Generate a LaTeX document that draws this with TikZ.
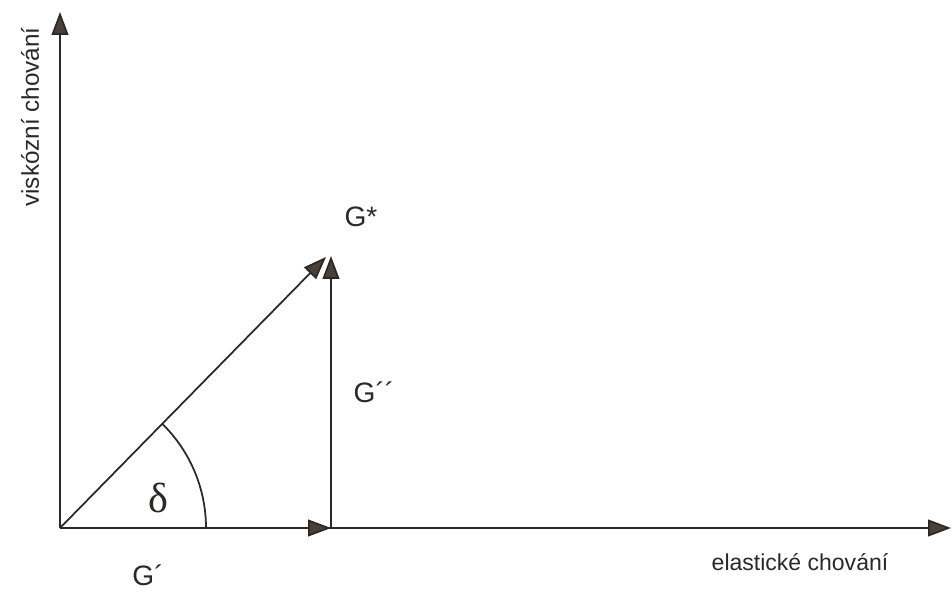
\documentclass[tikz,border=0pt]{standalone}
\usepackage{fontspec}
\setmainfont{Liberation Sans}
\newfontfamily\serifdelta{Liberation Serif}
\usepackage{xcolor}
\usepackage{tikz}
\usetikzlibrary{arrows.meta,positioning}
\definecolor{cara}{HTML}{2B2926}
\definecolor{hrot}{HTML}{4A403B}
\tikzset{
  osa/.style={draw=cara,line width=1pt},
  vektor/.style={draw=cara,line width=1pt,-{Triangle[length=13pt,width=9.5pt,fill=hrot]}},
  popis/.style={font=\fontsize{13.1}{15}\selectfont,text=cara,inner sep=0pt},
  velicina/.style={font=\fontsize{16}{18}\selectfont,text=cara,inner sep=0pt}
}

\begin{document}
\begin{tikzpicture}[x=0.02cm,y=0.02cm]
\useasboundingbox (0,0) rectangle (952,599);
\coordinate (O) at (60,71);
\coordinate (Ytop) at (60,587);
\coordinate (Xend) at (951,71);
\coordinate (Gp) at (331,71);
\coordinate (Gs) at (331,343);
\coordinate (Gd) at (326,342);
% osy
\draw[vektor] (O)--(Xend);
\draw[vektor] (O)--(Ytop);
% vektory
\draw[vektor] (O)--(Gp);
\draw[vektor] (Gp)--(Gs);
\draw[vektor] (O)--(Gd);
\draw[osa] (206,71) arc[start angle=0,end angle=45.5,radius=146];
% popisky
\node[velicina] (gstar) at (361,382) {G*};
\node[velicina] (gdv) at (374,207) {G´´};
\node[velicina] (gjed) at (148,24) {G´};
\node[font=\serifdelta\fontsize{24}{26}\selectfont,text=cara,inner sep=0pt] (delta) at (158,101) {δ};
\node[popis] (elast) at (800,37) {elastické chování};
\node[popis,font=\fontsize{13.8}{16}\selectfont,rotate=90] (visk) at (30,482) {viskózní chování};
\end{tikzpicture}
\end{document}
